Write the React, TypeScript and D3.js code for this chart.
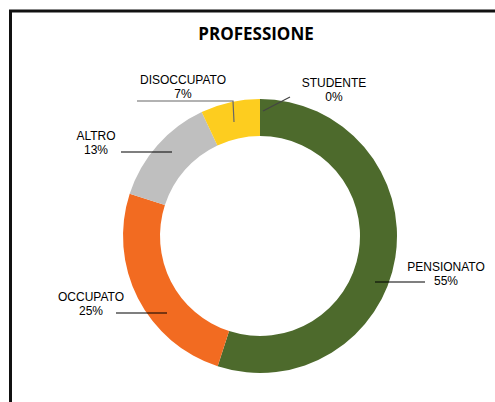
import React from "react";
import * as d3 from "d3";

const categories = ["PENSIONATO", "OCCUPATO", "ALTRO", "DISOCCUPATO", "STUDENTE"];
const values = [55, 25, 13, 7, 0];
const colors = ["#4d6a2c", "#f26b21", "#bfbfbf", "#fdcd1f", "#4d6a2c"];
const title = "PROFESSIONE";

// label layout (text anchor + leader line points), separate from data
const labelLayout: Record<string, { x: number; y: number; line: [number, number][]; stroke: string }> = {
  PENSIONATO: { x: 446, y: 271, line: [[375, 282], [425, 282]], stroke: "#000" },
  OCCUPATO: { x: 91, y: 301, line: [[116, 313], [167, 313]], stroke: "#000" },
  ALTRO: { x: 96, y: 140, line: [[121, 152], [172, 152]], stroke: "#000" },
  DISOCCUPATO: { x: 183, y: 84, line: [[137, 101], [233, 101], [234, 122]], stroke: "#666" },
  STUDENTE: { x: 334, y: 87, line: [[290, 97], [263, 111]], stroke: "#444" },
};

const W = 495;
const H = 402;
const cx = 260;
const cy = 236;
const rOuter = 137;
const rInner = 100;

export default function App() {
  const pie = d3.pie<number>().sort(null).value((d) => d)(values);
  const arc = d3.arc<d3.PieArcDatum<number>>().innerRadius(rInner).outerRadius(rOuter);
  const lineGen = d3.line();
  return (
    <svg
      width={W}
      height={H}
      style={{ position: "absolute", left: 0, top: 0, background: "#fff" }}
      fontFamily="'Open Sans', sans-serif"
    >
      <rect x={0} y={0} width={W} height={H} fill="#fff" />
      <path d={`M${10.5},${H} L${10.5},${11} L${W},${11}`} fill="none" stroke="#111" strokeWidth={3} />
      <text x={256} y={40} textAnchor="middle" fontSize={17} fontWeight="bold" fill="#000">
        {title}
      </text>
      <g transform={`translate(${cx},${cy})`}>
        {pie.map((p, i) => (
          <path key={categories[i]} d={arc(p) || ""} fill={colors[i]} />
        ))}
      </g>
      {categories.map((c, i) => {
        const l = labelLayout[c];
        return (
          <g key={c}>
            <path d={lineGen(l.line) || ""} fill="none" stroke={l.stroke} strokeWidth={1.2} />
            <text
              x={l.x}
              y={l.y}
              textAnchor="middle"
              fontSize={12}
              fill="#000"
              fontFamily="'Liberation Sans', Arial, sans-serif"
            >
              <tspan x={l.x}>{c}</tspan>
              <tspan x={l.x} dy={13.6}>{values[i]}%</tspan>
            </text>
          </g>
        );
      })}
    </svg>
  );
}
